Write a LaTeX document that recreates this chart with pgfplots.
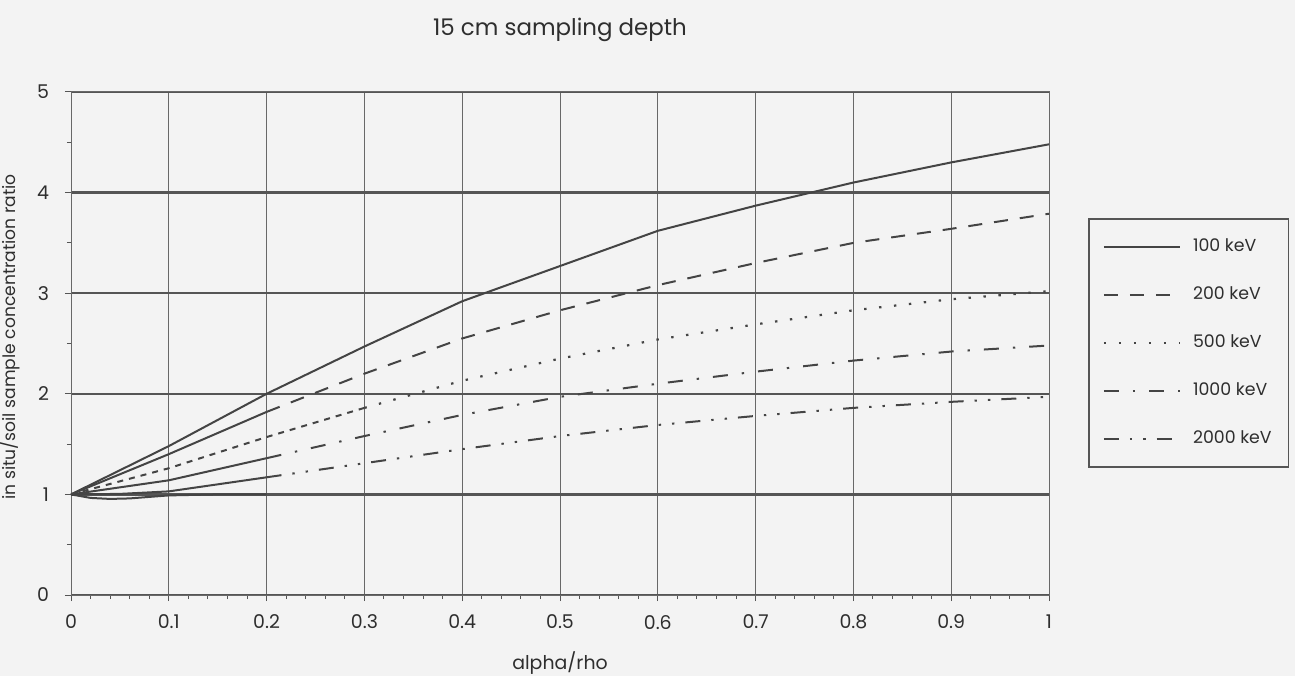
\documentclass[border=0pt]{standalone}
\usepackage{pgfplots}
\usepackage{pgfplotstable}
\pgfplotsset{compat=1.18}
\usepackage{fontspec}
\setmainfont{Poppins}

\definecolor{paper}{HTML}{F3F3F3}
\definecolor{ink}{HTML}{2E2E2E}
\definecolor{curve}{HTML}{444444}
\definecolor{gridh}{HTML}{555555}
\definecolor{gridv}{HTML}{686868}

% in situ / soil sample concentration ratio versus alpha/rho
\pgfplotstableread{
x    y
0    1
0.05 1.24
0.1  1.48
0.2  2.00
0.3  2.47
0.4  2.92
0.5  3.27
0.6  3.62
0.7  3.87
0.8  4.10
0.9  4.30
1.0  4.48
}\kevA
\pgfplotstableread{
x    y
0    1
0.1  1.40
0.2  1.82
0.3  2.20
0.4  2.55
0.5  2.83
0.6  3.08
0.7  3.30
0.8  3.50
0.9  3.64
1.0  3.79
}\kevB
\pgfplotstableread{
x    y
0    1
0.1  1.26
0.2  1.57
0.3  1.86
0.4  2.13
0.5  2.35
0.6  2.54
0.7  2.69
0.8  2.83
0.9  2.94
1.0  3.02
}\kevC
\pgfplotstableread{
x    y
0    1
0.1  1.14
0.2  1.36
0.3  1.58
0.4  1.79
0.5  1.97
0.6  2.10
0.7  2.22
0.8  2.33
0.9  2.42
1.0  2.48
}\kevD
\pgfplotstableread{
x    y
0    1
0.05 1.005
0.1  1.03
0.2  1.17
0.3  1.31
0.4  1.45
0.5  1.58
0.6  1.69
0.7  1.78
0.8  1.86
0.9  1.92
1.0  1.97
}\kevE
\pgfplotstableread{
x    y
0    1
0.02 0.965
0.04 0.955
0.06 0.960
0.08 0.975
0.1  0.990
0.15 1.000
0.2  1.000
}\kevLow

\begin{document}
\begin{tikzpicture}
\fill[paper] (0,0) rectangle (647.5bp,338bp);
\useasboundingbox (0,0) rectangle (647.5bp,338bp);
\begin{axis}[
  scale only axis,
  width=489bp, height=251.5bp,
  at={(35.5bp,40.5bp)}, anchor=south west,
  xmin=0, xmax=1, ymin=0, ymax=5,
  xtick={0,0.1,0.2,0.3,0.4,0.5,0.6,0.7,0.8,0.9,1},
  ytick={0,1,2,3,4,5},
  minor x tick num=4,
  minor y tick num=1,
  /pgf/number format/assume math mode=true,
  grid=major,
  x grid style={gridv, line width=0.5bp},
  y grid style={gridh, line width=1.2bp},
  axis line style={gridv, line width=0.5bp},
  tick pos=left, tick align=outside,
  major tick length=3bp, minor tick length=2bp,
  tick style={gridh, line width=0.5bp},
  tick label style={text=ink, font=\fontsize{9.5}{11}\selectfont},
  xticklabel style={yshift=-3.5bp},
  yticklabel style={xshift=-4.5bp},
  title={15 cm sampling depth},
  title style={at={(axis description cs:0.5,1.0994)}, anchor=center,
    text=ink, font=\fontsize{11.5}{13}\selectfont},
  xlabel={alpha/rho},
  xlabel style={at={(axis description cs:0.5,-0.135)}, anchor=center,
    text=ink, font=\fontsize{9.5}{11}\selectfont},
  ylabel={in situ/soil sample concentration ratio},
  ylabel style={at={(axis description cs:-0.0624,0.513)}, anchor=center,
    text=ink, font=\fontsize{8.6}{10}\selectfont},
  legend style={at={(axis description cs:1.0399,0.7495)}, anchor=north west,
    draw=gridh, line width=0.8bp, fill=paper,
    inner xsep=7bp, inner ysep=8bp, row sep=12bp, column sep=4.5bp,
    text=ink, font=\fontsize{8.7}{10}\selectfont,
    nodes={inner sep=1.5bp, text height=7bp, text depth=2bp}},
  legend cell align=left,
  legend image code/.code={\draw[#1] (0bp,0bp) -- (38bp,0bp);},
  every axis plot/.append style={curve, line width=1bp, no marks},
]
% near-origin portions, drawn with a finer pattern
\addplot[forget plot, solid] table[restrict x to domain=0:0.2] {\kevB};
\addplot[forget plot, dash pattern=on 3bp off 3bp] table[restrict x to domain=0:0.3] {\kevC};
\addplot[forget plot, solid] table[restrict x to domain=0:0.2] {\kevD};
\addplot[forget plot, solid] table[restrict x to domain=0:0.2] {\kevE};
\addplot[forget plot, solid] table {\kevLow};

\addplot[solid] table {\kevA};
\addlegendentry{100 keV}
\addplot[dash pattern=on 7bp off 6bp] table[restrict x to domain=0.2:1] {\kevB};
\addlegendentry{200 keV}
\addplot[line width=1.1bp, dash pattern=on 1.2bp off 6.3bp] table[restrict x to domain=0.3:1] {\kevC};
\addlegendentry{500 keV}
\addplot[dash pattern=on 7.5bp off 7bp on 1.2bp off 7bp] table[restrict x to domain=0.2:1] {\kevD};
\addlegendentry{1000 keV}
\addplot[dash pattern=on 7.5bp off 5.5bp on 1.2bp off 5.5bp on 1.2bp off 5.5bp] table[restrict x to domain=0.2:1] {\kevE};
\addlegendentry{2000 keV}
\end{axis}
\end{tikzpicture}
\end{document}
